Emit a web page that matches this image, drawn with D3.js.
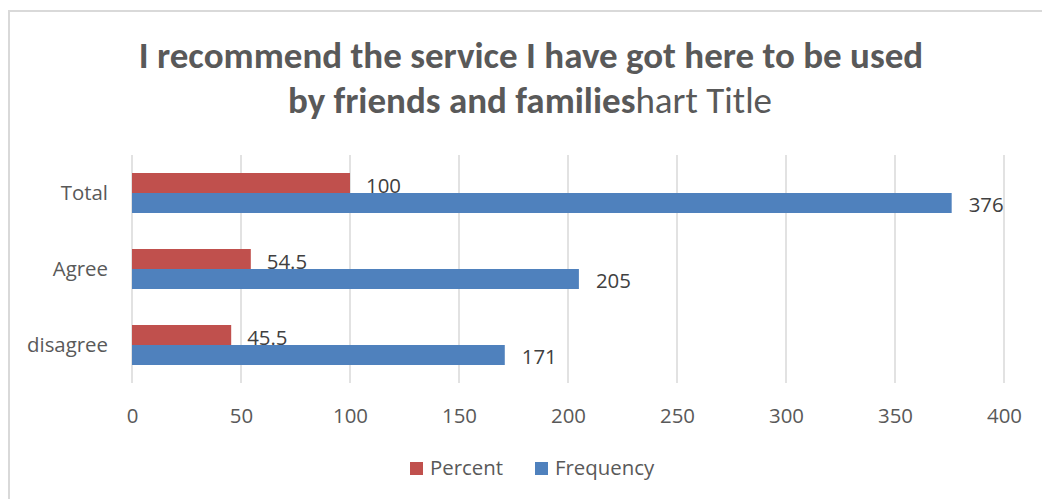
<!DOCTYPE html>
<html>
<head>
<meta charset="utf-8">
<script src="https://cdn.jsdelivr.net/npm/d3@7"></script>
<style>
  body { margin: 0; background: #fff; }
  text { font-family: "Open Sans", "Noto Sans", sans-serif; }
  .title text, text.title { font-family: Carlito, Calibri, "Open Sans", sans-serif; }
</style>
</head>
<body>
<div id="chart"></div>
<script>
const width = 1042;
const height = 499;

// data
const categories = ["Total", "Agree", "disagree"];
const percentValues = [100, 54.5, 45.5];
const frequencyValues = [376, 205, 171];
const percentLabels = ["100", "54.5", "45.5"];
const xTicks = [0, 50, 100, 150, 200, 250, 300, 350, 400];
const seriesNames = ["Percent", "Frequency"];
const seriesColors = ["#c0504d", "#4f81bd"];

const margin = { left: 132, right: 38, top: 155, bottom: 116 };
const fontSize = "20.4px";

var svg = d3.select("#chart")
            .append("svg")
            .attr("width", width)
            .attr("height", height);

// chart frame (only top/left edge visible in crop)
svg.append("rect")
   .attr("x", 9)
   .attr("y", 11)
   .attr("width", 1100)
   .attr("height", 600)
   .attr("fill", "none")
   .attr("stroke", "#d9d9d9")
   .attr("stroke-width", 2);

const xScale = d3.scaleLinear()
                 .domain([0, 400])
                 .range([margin.left, width - margin.right]);
const yScale = d3.scaleBand()
                 .domain(categories)
                 .range([margin.top, height - margin.bottom]);
const barH = 20;

// gridlines
svg.append("g")
   .selectAll("line")
   .data(xTicks)
   .join("line")
   .attr("x1", d => xScale(d))
   .attr("x2", d => xScale(d))
   .attr("y1", margin.top)
   .attr("y2", height - margin.bottom)
   .attr("stroke", "#d9d9d9")
   .attr("stroke-width", 1.5);

// x axis labels
const xAxis = d3.axisBottom(xScale).tickValues(xTicks).tickSize(0);
const xg = svg.append("g")
   .attr("transform", "translate(0," + (height - margin.bottom) + ")")
   .call(xAxis);
xg.select(".domain").remove();
xg.selectAll("text")
  .attr("y", 40).attr("dy", null)
  .attr("fill", "#595959")
  .style("font-size", fontSize)
  .style("font-family", '"Open Sans", sans-serif');

// y axis labels
const yAxis = d3.axisLeft(yScale).tickSize(0).tickPadding(24);
const yg = svg.append("g")
   .attr("transform", "translate(" + margin.left + ",0)")
   .call(yAxis);
yg.select(".domain").remove();
yg.selectAll("text")
  .attr("dy", "7px")
  .attr("fill", "#595959")
  .style("font-size", fontSize)
  .style("font-family", '"Open Sans", sans-serif');

// bars
const mid = c => yScale(c) + yScale.bandwidth() / 2;
svg.append("g").selectAll("rect")
   .data(categories)
   .join("rect")
   .attr("x", xScale(0))
   .attr("y", d => mid(d) - barH)
   .attr("width", (d, i) => xScale(percentValues[i]) - xScale(0))
   .attr("height", barH)
   .attr("fill", seriesColors[0]);
svg.append("g").selectAll("rect")
   .data(categories)
   .join("rect")
   .attr("x", xScale(0))
   .attr("y", d => mid(d))
   .attr("width", (d, i) => xScale(frequencyValues[i]) - xScale(0))
   .attr("height", barH)
   .attr("fill", seriesColors[1]);

// data labels
svg.append("g").selectAll("text")
   .data(categories)
   .join("text")
   .attr("x", (d, i) => xScale(percentValues[i]) + 16)
   .attr("y", d => mid(d))
   .attr("fill", "#404040")
   .style("font-size", fontSize)
   .text((d, i) => percentLabels[i]);
svg.append("g").selectAll("text")
   .data(categories)
   .join("text")
   .attr("x", (d, i) => xScale(frequencyValues[i]) + 17)
   .attr("y", d => mid(d) + 19)
   .attr("fill", "#404040")
   .style("font-size", fontSize)
   .text((d, i) => frequencyValues[i]);

// title
const title = svg.append("text")
   .attr("class", "title")
   .attr("text-anchor", "middle")
   .attr("fill", "#595959")
   .style("font-size", "37px");
title.append("tspan")
   .attr("x", 531).attr("y", 68)
   .style("font-weight", "bold")
   .text("I recommend the service I have got here to be used");
const t2 = title.append("tspan")
   .attr("x", 530).attr("y", 113);
t2.append("tspan").style("font-weight", "bold").text("by friends and families");
t2.append("tspan").text("hart Title");

// legend
const legendX = [410, 535];
const leg = svg.append("g");
seriesNames.forEach((name, i) => {
  leg.append("rect")
     .attr("x", legendX[i]).attr("y", 462)
     .attr("width", 13).attr("height", 13)
     .attr("fill", seriesColors[i]);
  leg.append("text")
     .attr("x", legendX[i] + 20).attr("y", 475)
     .attr("fill", "#595959")
     .style("font-size", fontSize)
     .text(name);
});
</script>
</body>
</html>
